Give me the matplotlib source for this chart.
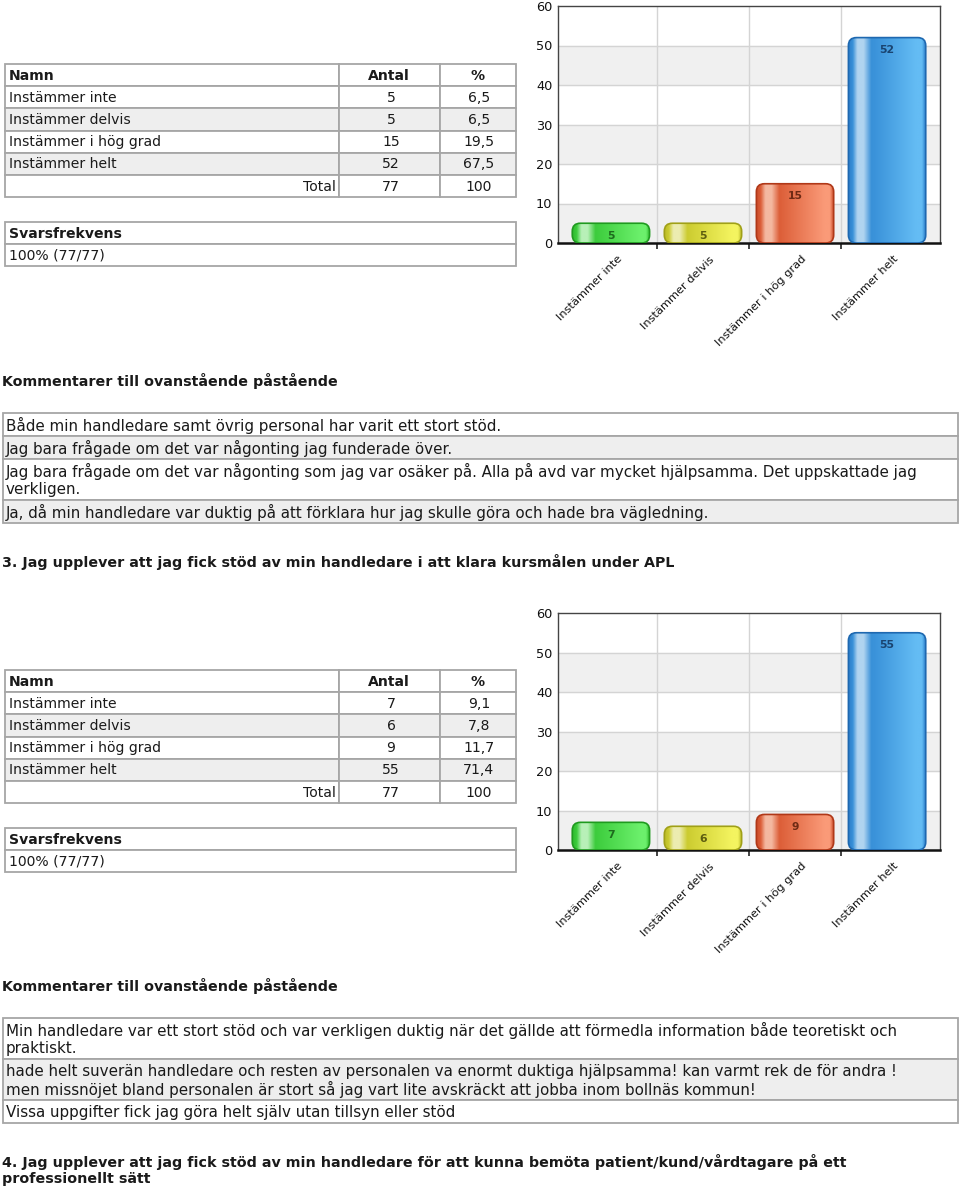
import matplotlib
matplotlib.use("Agg")
import matplotlib.pyplot as plt
import numpy as np
from matplotlib.patches import Rectangle, FancyBboxPatch
from matplotlib.colors import LinearSegmentedColormap
import matplotlib.transforms as mtransforms

# ---------------- data ----------------
categories = ["Instämmer inte", "Instämmer delvis", "Instämmer i hög grad", "Instämmer helt"]

q2_counts = [5, 5, 15, 52]
q2_percent = ["6,5", "6,5", "19,5", "67,5"]
q2_total = "77"
q2_total_pct = "100"
q2_response = "100% (77/77)"
q2_comments = [
    ["Både min handledare samt övrig personal har varit ett stort stöd."],
    ["Jag bara frågade om det var någonting jag funderade över."],
    ["Jag bara frågade om det var någonting som jag var osäker på. Alla på avd var mycket hjälpsamma. Det uppskattade jag",
     "verkligen."],
    ["Ja, då min handledare var duktig på att förklara hur jag skulle göra och hade bra vägledning."],
]

q3_title = "3. Jag upplever att jag fick stöd av min handledare i att klara kursmålen under APL"
q3_counts = [7, 6, 9, 55]
q3_percent = ["9,1", "7,8", "11,7", "71,4"]
q3_total = "77"
q3_total_pct = "100"
q3_response = "100% (77/77)"
q3_comments = [
    ["Min handledare var ett stort stöd och var verkligen duktig när det gällde att förmedla information både teoretiskt och",
     "praktiskt."],
    ["hade helt suverän handledare och resten av personalen va enormt duktiga hjälpsamma! kan varmt rek de för andra !",
     "men missnöjet bland personalen är stort så jag vart lite avskräckt att jobba inom bollnäs kommun!"],
    ["Vissa uppgifter fick jag göra helt själv utan tillsyn eller stöd"],
]

q4_title = ["4. Jag upplever att jag fick stöd av min handledare för att kunna bemöta patient/kund/vårdtagare på ett",
            "professionellt sätt"]

comment_heading = "Kommentarer till ovanstående påstående"
table_header = ["Namn", "Antal", "%"]
response_header = "Svarsfrekvens"
y_ticks = [0, 10, 20, 30, 40, 50, 60]

# ---------------- styling ----------------
W, H = 960, 1189
FONT = "DejaVu Sans"
FS = 10.1        # table text
FS_C = 10.9      # comment text
FS_H = 10.3      # bold headings
TXT = "#1a1a1a"
plt.rcParams["font.family"] = [FONT]

bar_styles = [
    # edge, dark, highlight, body, light, label
    ("#1f9a1f", "#2db82d", "#b8f0b8", "#3ccc3c", "#6cf06c", "#1d6b1d"),
    ("#a0a018", "#b8b828", "#ececb0", "#cccc30", "#f4f460", "#5e5e10"),
    ("#b03818", "#c84a28", "#f4b8a0", "#dc5e38", "#fa9a78", "#6e2a14"),
    ("#1e68b0", "#2a7cc8", "#b0d4f0", "#3890d8", "#64bcf4", "#1a4470"),
]

fig = plt.figure(figsize=(W / 100, H / 100), dpi=100)
page = fig.add_axes([0, 0, 1, 1])
page.set_xlim(0, W)
page.set_ylim(H, 0)
page.axis("off")

GRID = "#a6a6a6"
GRAY_ROW = "#eeeeee"


def cell(x0, y0, x1, y1, fc="white"):
    page.add_patch(Rectangle((x0, y0), x1 - x0, y1 - y0, facecolor=fc,
                             edgecolor=GRID, lw=1.3, zorder=1))


def draw_table(top, counts, pcts, total, total_pct):
    edges = [top + i * 22.2 for i in range(7)]
    cols = [5, 339, 440, 516]
    for r in range(6):
        y0, y1 = edges[r], edges[r + 1]
        fc = GRAY_ROW if r in (2, 4) else "white"
        for c in range(3):
            cell(cols[c], y0, cols[c + 1], y1, fc)
    ym = [(edges[i] + edges[i + 1]) / 2 + 0.5 for i in range(6)]
    kw = dict(fontsize=FS, va="center", color=TXT)
    page.text(9, ym[0], table_header[0], fontweight="bold", ha="left", **kw)
    page.text(389, ym[0], table_header[1], fontweight="bold", ha="center", **kw)
    page.text(478, ym[0], table_header[2], fontweight="bold", ha="center", **kw)
    for i, (name, n, p) in enumerate(zip(categories, counts, pcts)):
        page.text(9, ym[i + 1], name, ha="left", **kw)
        page.text(391, ym[i + 1], str(n), ha="center", **kw)
        page.text(479, ym[i + 1], p, ha="center", **kw)
    page.text(336, ym[5], "Total", ha="right", **kw)
    page.text(391, ym[5], total, ha="center", **kw)
    page.text(479, ym[5], total_pct, ha="center", **kw)


def draw_response(top, value):
    cell(5, top, 516, top + 22)
    cell(5, top + 22, 516, top + 44)
    page.text(9, top + 11.5, response_header, fontsize=FS, fontweight="bold", va="center", color=TXT)
    page.text(9, top + 33.5, value, fontsize=FS, va="center", color=TXT)


def draw_comments(top, rows):
    y = top
    for i, lines in enumerate(rows):
        h = 23 if len(lines) == 1 else 41
        fc = GRAY_ROW if i % 2 == 1 else "white"
        cell(3, y, 958, y + h, fc)
        for j, ln in enumerate(lines):
            page.text(6, y + 12.5 + j * 18, ln, fontsize=FS_C, va="center", ha="left", color=TXT)
        y += h


def draw_chart(top_px, counts):
    bot_px = top_px + 237
    left_px, right_px = 558, 940
    ax = fig.add_axes([left_px / W, 1 - bot_px / H, (right_px - left_px) / W, (bot_px - top_px) / H])
    ax.set_zorder(5)
    ax.set_facecolor("white")
    x = np.arange(len(categories))
    xlo, xhi = -0.575, len(categories) - 1 + 0.575
    for lo in (0, 20, 40):
        ax.axhspan(lo, lo + 10, color="#f0f0f0", zorder=0)
    for yv in y_ticks[1:-1]:
        ax.axhline(yv, color="#d4d4d4", lw=1, zorder=1)
    for xv in x[:-1] + 0.5:
        ax.axvline(xv, color="#d4d4d4", lw=1, zorder=1)

    bars = ax.bar(x, counts, width=0.84, color="none", zorder=2)
    ppx_x = (xhi - xlo) / (right_px - left_px)
    ppx_y = 60.0 / (bot_px - top_px)
    r = 8 * ppx_x
    asp = ppx_y / ppx_x
    grad = np.linspace(0, 1, 256).reshape(1, -1)
    for b, v, st in zip(bars, counts, bar_styles):
        b.set_visible(False)
        edge, dark, hl, body, light, lab = st
        x0, w, h = b.get_x(), b.get_width(), b.get_height()
        rr = min(r, h / asp / 2.0)
        patch = FancyBboxPatch((x0, 0), w, h, boxstyle=f"round,pad=0,rounding_size={rr}",
                               mutation_aspect=asp, facecolor="none", edgecolor=edge, lw=1.2, zorder=4)
        ax.add_patch(patch)
        cmap = LinearSegmentedColormap.from_list(
            "g", [(0, dark), (0.06, body), (0.12, hl), (0.2, hl), (0.3, body),
                  (0.88, light), (0.95, light), (1, dark)])
        im = ax.imshow(grad, cmap=cmap, extent=(x0, x0 + w, 0, h), aspect="auto",
                       origin="lower", zorder=3, interpolation="bilinear")
        im.set_clip_path(patch)
        ax.annotate(str(v), (b.get_x() + w / 2, h), xytext=(0, -9), textcoords="offset points",
                    ha="center", va="center", fontsize=7.8, fontweight="bold", color=lab, zorder=6)

    ax.set_xlim(xlo, xhi)
    ax.set_ylim(0, 60)
    ax.set_yticks(y_ticks)
    ax.set_yticklabels([str(t) for t in y_ticks], fontsize=9.3, color="#111111")
    ax.tick_params(axis="y", length=0, pad=4)
    ax.set_xticks(x)
    ax.set_xticklabels(categories, rotation=45, ha="right", rotation_mode="anchor",
                       fontsize=8.2, color="#111111")
    ax.tick_params(axis="x", length=0, pad=8)
    ax.set_xticks(x[:-1] + 0.5, minor=True)
    ax.tick_params(axis="x", which="minor", length=4, width=1.2, color="#222222")
    off = mtransforms.ScaledTranslation(6 / 100, 0, fig.dpi_scale_trans)
    for lbl in ax.get_xticklabels():
        lbl.set_transform(lbl.get_transform() + off)
    for s in ("top", "right", "left"):
        ax.spines[s].set_color("#444444")
        ax.spines[s].set_linewidth(1.0)
    ax.spines["bottom"].set_color("#111111")
    ax.spines["bottom"].set_linewidth(1.8)
    return ax


# ---------------- section 2 ----------------
draw_chart(6, q2_counts)
draw_table(64, q2_counts, q2_percent, q2_total, q2_total_pct)
draw_response(222, q2_response)
page.text(2, 381, comment_heading, fontsize=FS_H, fontweight="bold", va="center", color=TXT)
draw_comments(413, q2_comments)

# ---------------- section 3 ----------------
page.text(2, 562, q3_title, fontsize=FS_H, fontweight="bold", va="center", color=TXT)
draw_chart(613, q3_counts)
draw_table(670, q3_counts, q3_percent, q3_total, q3_total_pct)
draw_response(828, q3_response)
page.text(2, 986, comment_heading, fontsize=FS_H, fontweight="bold", va="center", color=TXT)
draw_comments(1018, q3_comments)

# ---------------- section 4 ----------------
page.text(2, 1162, q4_title[0], fontsize=FS_H, fontweight="bold", va="center", color=TXT)
page.text(2, 1179, q4_title[1], fontsize=FS_H, fontweight="bold", va="center", color=TXT)

fig.savefig("out.png", dpi=100)
